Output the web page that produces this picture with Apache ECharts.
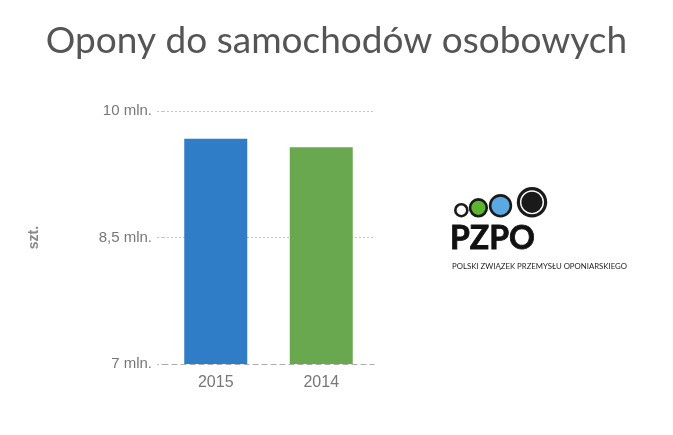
<!DOCTYPE html>
<html>
<head>
<meta charset="utf-8">
<script src="https://cdn.jsdelivr.net/npm/echarts@6/dist/echarts.min.js"></script>
<style>html,body{margin:0;padding:0;background:#fff}#c{width:673px;height:435px}</style>
</head>
<body>
<div id="c"></div>
<script>
var categories = ['2015', '2014'];
var values = [9.67, 9.57];
var barColors = ['#2e7dc6', '#6aa84f'];
var tickValues = [7, 8.5, 10];
var tickLabels = ['7 mln.', '8,5 mln.', '10 mln.'];
var titleText = 'Opony do samochodów osobowych';
var unitName = 'szt.';

var sans = '"Liberation Sans", Arial, sans-serif';
var T = 'rgba(0,0,0,0)', G = '#c4c4c4';
var chart = echarts.init(document.getElementById('c'), null, {renderer: 'canvas'});
chart.setOption({
  animation: false,
  backgroundColor: '#fff',
  title: {
    text: titleText,
    left: 'center',
    top: 18,
    textStyle: {fontFamily: 'Lato', fontSize: 37, fontWeight: 'normal', color: '#555'}
  },
  grid: {left: 163, right: 299, top: 111, bottom: 71},
  xAxis: {
    type: 'category',
    data: categories,
    axisLine: {show: true, lineStyle: {color: '#aaa', type: [5, 4], width: 1}},
    axisTick: {show: false},
    axisLabel: {fontFamily: sans, fontSize: 16, color: '#777', margin: 11}
  },
  yAxis: {
    type: 'value',
    min: 7,
    max: 10,
    interval: 0.5,
    name: unitName,
    nameLocation: 'middle',
    nameGap: 122,
    nameRotate: 90,
    nameTextStyle: {fontFamily: sans, fontSize: 14, fontWeight: 'bold', color: '#888'},
    axisLine: {show: false},
    axisTick: {show: true, customValues: tickValues, length: 8, lineStyle: {color: G, type: [2, 2]}},
    axisLabel: {
      fontFamily: sans, fontSize: 15, color: '#777', margin: 11,
      customValues: tickValues,
      formatter: function (v) {
        for (var i = 0; i < tickValues.length; i++) { if (Math.abs(v - tickValues[i]) < 1e-6) return tickLabels[i]; }
        return '';
      }
    },
    splitLine: {show: true, lineStyle: {color: [T, G, G], type: [2, 2], width: 1}}
  },
  series: [{
    type: 'bar',
    barWidth: 63,
    data: values.map(function (v, i) { return {value: v, itemStyle: {color: barColors[i]}}; })
  }],
  graphic: [
    {type: 'circle', shape: {cx: 461.3, cy: 210.2, r: 6}, style: {fill: '#fff', stroke: '#1a1a1a', lineWidth: 2.6}},
    {type: 'circle', shape: {cx: 478.4, cy: 207.8, r: 8.4}, style: {fill: '#5cb430', stroke: '#1a1a1a', lineWidth: 2.6}},
    {type: 'circle', shape: {cx: 500.5, cy: 205.8, r: 10.4}, style: {fill: '#5ba9e3', stroke: '#1a1a1a', lineWidth: 2.6}},
    {type: 'circle', shape: {cx: 532, cy: 202.3, r: 15.2}, style: {fill: '#1a1a1a'}},
    {type: 'circle', shape: {cx: 532, cy: 202.3, r: 11.3}, style: {fill: 'none', stroke: '#fff', lineWidth: 1.4}},
    {type: 'text', x: 450, y: 239, style: {text: 'PZPO', font: 'bold 32px Lato', fill: '#111', stroke: '#111', lineWidth: 0.8, verticalAlign: 'middle'}},
    {type: 'text', x: 452, y: 266, style: {text: 'POLSKI ZWIĄZEK PRZEMYSŁU OPONIARSKIEGO', font: '7.8px Lato', fill: '#222', verticalAlign: 'middle'}}
  ]
});
</script>
</body>
</html>
